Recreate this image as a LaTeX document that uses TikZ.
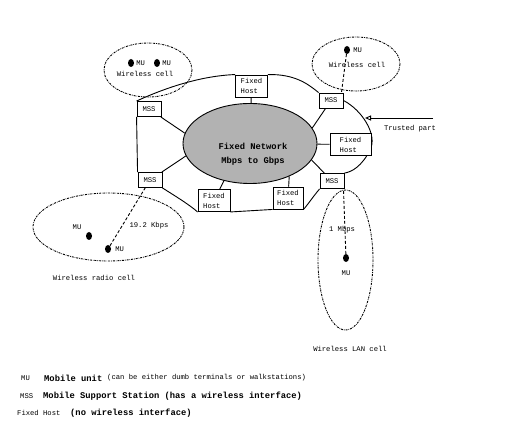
\documentclass[tikz,border=0pt]{standalone}
\usepackage{fontspec}
\setmonofont{Liberation Mono}
\usepackage{tikz}
\usetikzlibrary{positioning,arrows.meta,calc,shapes.geometric,backgrounds}
\definecolor{netgray}{HTML}{B2B2B2}
\newcommand{\smalltt}{\fontsize{7.2}{10}\selectfont\ttfamily}
\newcommand{\bigtt}{\fontsize{8.8}{14}\selectfont\ttfamily\bfseries}
\tikzset{
  stbox/.style={draw=black, fill=white, line width=0.9pt, inner sep=1.5pt,
                font=\smalltt, align=left},
  mss/.style={stbox, minimum width=24pt, minimum height=15pt},
  fhost/.style={stbox, minimum width=32pt, minimum height=22pt},
  mu/.style={ellipse, fill=black, minimum width=6pt, minimum height=8pt, inner sep=0pt},
  cell/.style={line width=0.9pt, dash pattern=on 2pt off 1pt on 0.6pt off 1pt},
  radio/.style={line width=0.9pt, densely dashed},
  wire/.style={line width=0.9pt},
  lbl/.style={font=\smalltt, inner sep=0pt},
}

\begin{document}
\begin{tikzpicture}[x=1pt,y=-1pt]
  \useasboundingbox (0,0) rectangle (521,427);
  % fixed network and its hosts
  \node[ellipse, draw, fill=netgray, line width=0.9pt, minimum width=134pt,
        minimum height=80pt] (net) at (250,143.5) {};
  \node[font=\bigtt, align=center, inner sep=0pt] (netTxt) at (253,154)
    {Fixed Network\\Mbps to Gbps};
  \node[fhost] (fhT) at (251.5,86) {Fixed\\Host};
  \node[mss] (mssLT) at (149,109) {MSS};
  \node[mss] (mssLB) at (150,180) {MSS};
  \node[fhost] (fhBL) at (214,200.5) {Fixed\\Host};
  \node[fhost, minimum width=30pt] (fhBR) at (288,198) {Fixed\\Host};
  \node[mss] (mssRB) at (332,181) {MSS};
  \node[fhost, fill=white, minimum width=41pt] (fhR) at (350.5,144.5) {Fixed\\Host};
  \node[mss] (mssRT) at (331,100.5) {MSS};
  \draw[wire] (mssLT) -- (net.171);
  \draw[wire] (fhT) -- (net);
  \draw[wire] (mssLB) -- (net.191);
  \draw[wire] (fhBL) -- (net.235);
  \draw[wire] (fhBR) -- (net.320);
  \draw[wire] (mssRB) -- (net.345);
  \draw[wire] (fhR) -- (net);
  \draw[wire] (mssRT) -- (net.14);
  % trusted part boundary
  \begin{scope}[on background layer]
    \draw[wire] (mssLT.south west) -- (mssLB.north west);
    \draw[wire] (mssLT.north west) .. controls (165,88) and (200,76) .. (fhT.north west);
    \draw[wire] (fhT.north east) .. controls (295,74) and (308,84) .. (mssRT.north west);
    \draw[wire] (mssRT.east) .. controls (362,110) and (378,135) .. (370,150)
      .. controls (362,166) and (352,172) .. (mssRB.north east);
    \draw[wire] (mssRB.south west) .. controls (312,198) and (306,207) .. (fhBR.south east);
    \draw[wire] (fhBR.south west) -- (fhBL.south east);
    \draw[wire] (fhBL.south west) .. controls (190,205) and (172,194) .. (mssLB.south east);
  \end{scope}
  \coordinate (trustTail) at (433,118);
  \coordinate (trustTip) at (365,118);
  \draw[wire, -{Triangle[open,length=6pt,width=5pt]}] (trustTail) -- (trustTip);
  \node[lbl] (trustLbl) at (410,129) {Trusted part};
  % wireless cells
  \draw[cell] (148,70) ellipse [x radius=44, y radius=27];
  \node[mu] (muA) at (131,63) {};
  \node[lbl, right=2pt of muA] (muAlbl) {MU};
  \node[mu] (muB) at (157,63) {};
  \node[lbl, right=2pt of muB] (muBlbl) {MU};
  \node[lbl] (cellTL) at (145,74) {Wireless cell};

  \draw[cell] (356,64) ellipse [x radius=44, y radius=27];
  \node[mu] (muC) at (347,50) {};
  \node[lbl, right=3pt of muC] (muClbl) {MU};
  \node[lbl] (cellTR) at (357,65) {Wireless cell};
  \draw[radio] (muC) -- ($(mssRT.north east)+(-2,0)$);

  \draw[cell] (108.5,227) ellipse [x radius=75.5, y radius=34];
  \node[mu] (muD) at (89,236) {};
  \node[lbl] (muDlbl) at (77,227) {MU};
  \node[mu] (muE) at (108,249) {};
  \node[lbl, right=4pt of muE] (muElbl) {MU};
  \node[lbl] (rateBL) at (149,226) {19.2 Kbps};
  \node[lbl] (cellBL) at (94,278) {Wireless radio cell};
  \draw[radio] (muE) -- (mssLB);

  \draw[cell] (345.5,260) ellipse [x radius=27.5, y radius=70];
  \node[lbl] (rateLAN) at (342,230) {1 Mbps};
  \node[mu] (muF) at (346,258) {};
  \node[lbl] (muFlbl) at (346,273) {MU};
  \node[lbl] (cellLAN) at (350,349) {Wireless LAN cell};
  \draw[radio] (muF) -- ($(mssRB.south east)+(-1,0)$);
  % legend
  \node[lbl, anchor=west] (keyMU) at (21,378) {MU};
  \node[font=\bigtt, inner sep=0pt, anchor=west] (keyMUtxt) at (44,378) {Mobile unit};
  \node[lbl, anchor=west] (keyMUnote) at (107,378) {(can be either dumb terminals or walkstations)};
  \node[lbl, anchor=west] (keyMSS) at (20,396) {MSS};
  \node[font=\bigtt, inner sep=0pt, anchor=west] (keyMSStxt) at (43,396)
    {Mobile Support Station (has a wireless interface)};
  \node[lbl, anchor=west] (keyFH) at (17,413) {Fixed Host};
  \node[font=\bigtt, inner sep=0pt, anchor=west] (keyFHtxt) at (70,413) {(no wireless interface)};
\end{tikzpicture}
\end{document}
